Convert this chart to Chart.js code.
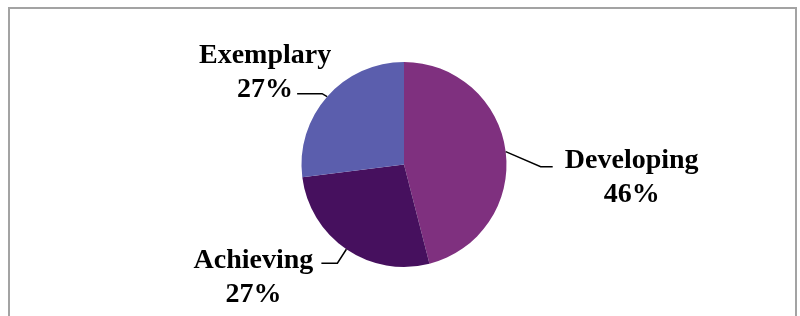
<!DOCTYPE html>
<html>
<head>
<meta charset="utf-8">
<script src="https://cdn.jsdelivr.net/npm/chart.js@4.4.1/dist/chart.umd.min.js"></script>
<style>
  html, body { margin: 0; padding: 0; background: #ffffff; }
  #wrap { position: relative; width: 800px; height: 316px; overflow: hidden; }
  #frame { position: absolute; left: 8px; top: 7px; width: 789px; height: 330px;
           border: 2px solid #a3a3a3; box-sizing: border-box; }
  canvas { position: absolute; left: 0; top: 0; }
</style>
</head>
<body>
<div id="wrap">
  <div id="frame"></div>
  <canvas id="c" width="800" height="316"></canvas>
</div>
<script>
// ---- data ----
const categories = ["Developing", "Achieving", "Exemplary"];
const percentValues = [46, 27, 27];
const sliceColors = ["#7F307F", "#46105E", "#5B5EAD"];

// ---- label layout (offsets from the slice's outer mid-point) ----
const labelLayout = [
  { elbow: [35, 15],  end: [47, 15],   text: [126, 16] },
  { elbow: [-9, 14],  end: [-25, 14],  text: [-93, 19] },
  { elbow: [-5, -3],  end: [-30, -3],  text: [-62, -34] }
];
const lineGap = 34;

const leaderLabels = {
  id: 'leaderLabels',
  afterDatasetsDraw(chart) {
    const ctx = chart.ctx;
    const meta = chart.getDatasetMeta(0);
    const total = percentValues.reduce((a, b) => a + b, 0);
    ctx.save();
    meta.data.forEach((arc, i) => {
      const p = arc.getProps(['x', 'y', 'startAngle', 'endAngle', 'outerRadius'], true);
      const mid = (p.startAngle + p.endAngle) / 2;
      const ex = p.x + Math.cos(mid) * p.outerRadius;
      const ey = p.y + Math.sin(mid) * p.outerRadius;
      const L = labelLayout[i];
      ctx.strokeStyle = '#000';
      ctx.lineWidth = 1.5;
      ctx.beginPath();
      ctx.moveTo(ex, ey);
      ctx.lineTo(ex + L.elbow[0], ey + L.elbow[1]);
      ctx.lineTo(ex + L.end[0], ey + L.end[1]);
      ctx.stroke();
      ctx.fillStyle = '#000';
      ctx.font = 'bold 28px "Liberation Serif", "Times New Roman", serif';
      ctx.textAlign = 'center';
      ctx.textBaseline = 'alphabetic';
      const tx = ex + L.text[0];
      const ty = ey + L.text[1];
      ctx.fillText(categories[i], tx, ty);
      const pct = Math.round(percentValues[i] / total * 100) + '%';
      ctx.fillText(pct, tx, ty + lineGap);
    });
    ctx.restore();
  }
};

new Chart(document.getElementById('c'), {
  type: 'pie',
  data: {
    labels: categories,
    datasets: [{
      data: percentValues,
      backgroundColor: sliceColors,
      borderWidth: 0
    }]
  },
  options: {
    responsive: false,
    animation: false,
    layout: { padding: { top: 62, bottom: 49, left: 8, right: 0 } },
    plugins: {
      legend: { display: false },
      tooltip: { enabled: false }
    }
  },
  plugins: [leaderLabels]
});
</script>
</body>
</html>
